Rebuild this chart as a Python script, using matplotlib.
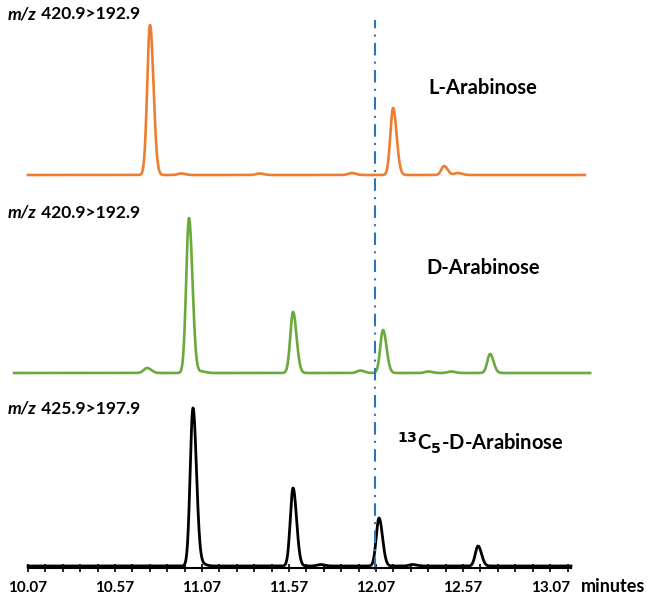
import numpy as np
import matplotlib
matplotlib.use("Agg")
import matplotlib.pyplot as plt
from matplotlib.ticker import FixedLocator

# ---- data (retention time in minutes, peak height in arbitrary units) ----
l_ara_times   = [10.771, 12.168, 12.461, 11.93, 12.54, 10.95, 11.40]
l_ara_heights = [150, 67, 9, 2, 2, 1.5, 1.5]

d_ara_times   = [10.754, 10.995, 11.593, 12.110, 12.725, 11.07, 11.98, 12.50, 12.37]
d_ara_heights = [5, 155, 61, 43, 19, 1.5, 2.5, 1.5, 1.5]

c13_times   = [11.018, 11.593, 12.087, 12.656, 11.07, 11.75, 12.28]
c13_heights = [158, 78, 48, 20, 2, 1.5, 1.5]

tick_labels = ["10.07", "10.57", "11.07", "11.57", "12.07", "12.57", "13.07"]
marker_time = 12.063

# ---- figure ----
W, H = 648, 598
fig = plt.figure(figsize=(W / 100, H / 100), dpi=100)
ax_left, ax_right, ax_bottom_px, ax_top_px = 28, 571, 568, 8
ax = fig.add_axes([ax_left / W, (H - ax_bottom_px) / H,
                   (ax_right - ax_left) / W, (ax_bottom_px - ax_top_px) / H])
x0, x1 = 10.07, 13.19
ax.set_xlim(x0, x1)
ax.set_ylim(0, ax_bottom_px - ax_top_px)

def trace(times, heights, sigma, t):
    y = np.zeros_like(t)
    for tm, h in zip(times, heights):
        s = sigma if h > 5 else sigma * 1.2
        # slight tailing: wider on the right side
        ss = np.where(t > tm, s * 1.25, s)
        y += h * np.exp(-0.5 * ((t - tm) / ss) ** 2)
    return y

t_orange = np.linspace(10.07, 13.27, 3000)
t_green = np.linspace(9.99, 13.30, 3000)
t_black = np.linspace(10.07, 13.19, 3000)

base_orange, base_green, base_black = 393, 195, 2
ax.plot(t_orange, base_orange + trace(l_ara_times, l_ara_heights, 0.016, t_orange),
        color="#ed7d31", lw=1.9, clip_on=False)
ax.plot(t_green, base_green + trace(d_ara_times, d_ara_heights, 0.016, t_green),
        color="#6aa93b", lw=1.9, clip_on=False)
ax.plot(t_black, base_black + trace(c13_times, c13_heights, 0.016, t_black),
        color="black", lw=2.0, clip_on=False)

# dash-dot marker line
ax.plot([marker_time, marker_time], [-2, 548], color="#2e75b6", lw=1.5,
        linestyle=(0, (6, 3, 1, 3)), clip_on=False)

# axes styling
for s in ["left", "top", "right"]:
    ax.spines[s].set_visible(False)
ax.spines["bottom"].set_linewidth(1.5)
ax.set_yticks([])
major = [float(v) for v in tick_labels]
minor = [round(x0 + 0.1 * k, 2) for k in range(32)]
ax.xaxis.set_major_locator(FixedLocator(major))
ax.xaxis.set_minor_locator(FixedLocator(minor))
ax.set_xticklabels(tick_labels, fontsize=11, fontweight="bold", family="Lato")
ax.tick_params(axis="x", which="both", direction="inout", length=6, width=1.2, pad=6)

fam = "Lato"
def ypx(p):
    return ax_bottom_px - p

ax.text(13.245, ypx(587), "minutes", fontsize=13, fontweight="bold", family=fam,
        ha="left", va="center", clip_on=False)

for ylab, mz in [(14, "420.9>192.9"), (213, "420.9>192.9"), (409, "425.9>197.9")]:
    ax.text(x0 - 20 / 174, ypx(ylab), "m/z",
            fontsize=12.5, fontweight="bold", fontstyle="italic", family=fam,
            ha="left", va="center", clip_on=False)
    ax.text(x0 - 20 / 174 + 29 / 174, ypx(ylab), " " + mz, fontsize=12.5,
            fontweight="bold", family=fam, ha="left", va="center", clip_on=False)

ax.text(12.685, ypx(88), "L-Arabinose", fontsize=14.5, fontweight="bold", family=fam,
        ha="center", va="center")
ax.text(12.685, ypx(268), "D-Arabinose", fontsize=14.5, fontweight="bold", family=fam,
        ha="center", va="center")
ax.text(12.67, ypx(443), r"$^{\mathbf{13}}$C$_{\mathbf{5}}$-D-Arabinose", fontsize=14.5,
        fontweight="bold", family=fam, ha="center", va="center")

fig.savefig("out.png", dpi=100)
